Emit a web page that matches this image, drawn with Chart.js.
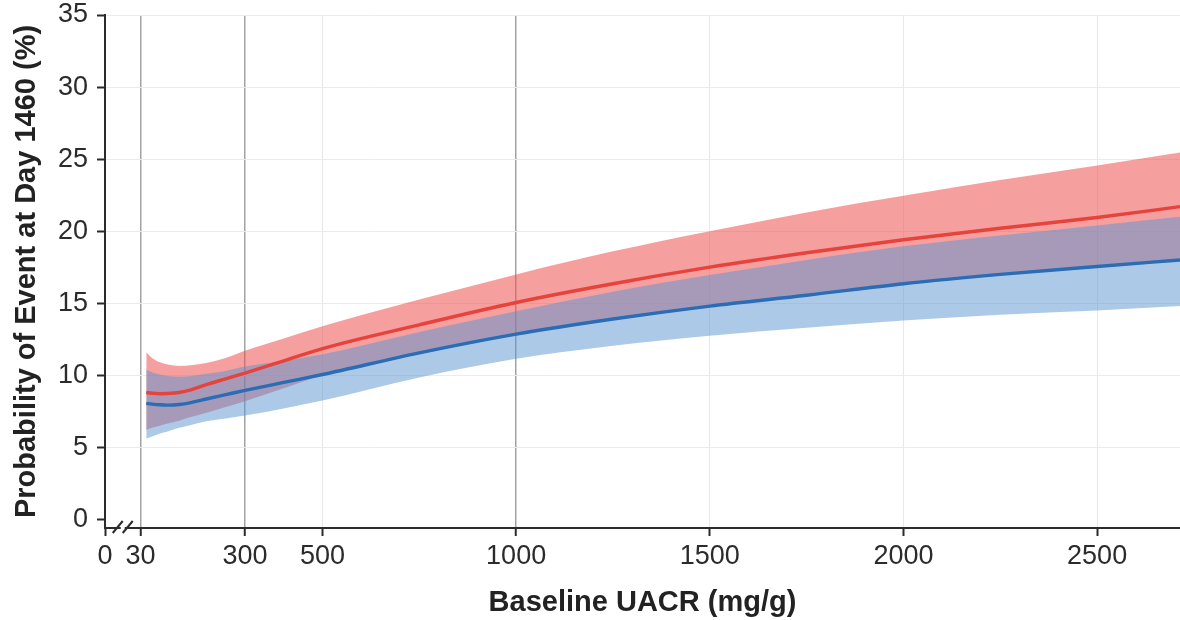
<!DOCTYPE html>
<html>
<head>
<meta charset="utf-8">
<script src="https://cdn.jsdelivr.net/npm/chart.js@4.4.1/dist/chart.umd.min.js"></script>
<style>
  html, body { margin: 0; padding: 0; background: #fff; }
  canvas { display: block; }
</style>
</head>
<body>
<canvas id="chart" width="1180" height="620"></canvas>
<script>
// Baseline UACR (mg/g) at which the model curves are evaluated
const uacr = [45, 60, 80, 100, 130, 160, 200, 250, 300, 400, 500, 750, 1000, 1250, 1500, 1750, 2000, 2250, 2500, 2714];

// Red group: estimate with 95% band (%)
const redMid  = [8.8, 8.75, 8.72, 8.73, 8.8, 8.98, 9.35, 9.75, 10.15, 11.0, 11.85, 13.5, 15.05, 16.35, 17.5, 18.5, 19.4, 20.2, 20.95, 21.7];
const redHigh = [11.6, 11.2, 10.9, 10.75, 10.65, 10.7, 10.85, 11.2, 11.7, 12.55, 13.4, 15.25, 17.0, 18.6, 20.0, 21.3, 22.45, 23.55, 24.55, 25.45];
const redLow  = [6.2, 6.35, 6.5, 6.65, 6.85, 7.1, 7.4, 7.8, 8.2, 9.1, 10.0, 11.5, 12.8, 13.85, 14.75, 15.5, 16.3, 16.95, 17.5, 17.95];

// Blue group: estimate with 95% band (%)
const blueMid  = [8.05, 8.0, 7.95, 7.93, 7.97, 8.1, 8.35, 8.65, 8.95, 9.5, 10.05, 11.55, 12.85, 13.9, 14.8, 15.55, 16.35, 17.0, 17.55, 18.0];
const blueHigh = [10.4, 10.2, 10.05, 9.95, 9.9, 9.95, 10.1, 10.3, 10.6, 11.0, 11.45, 13.0, 14.45, 15.8, 16.95, 18.0, 18.95, 19.7, 20.4, 21.0];
const blueLow  = [5.6, 5.75, 5.95, 6.1, 6.35, 6.55, 6.8, 7.0, 7.2, 7.7, 8.25, 9.85, 11.15, 12.05, 12.75, 13.3, 13.8, 14.2, 14.5, 14.8];

// Axis ticks
const xTickValues = [0, 30, 300, 500, 1000, 1500, 2000, 2500];
const yTickValues = [0, 5, 10, 15, 20, 25, 30, 35];
const referenceLines = [30, 300, 1000];

// The x axis is broken between 0 and 30; "0" is shown at the axis start.
const X_START = -61.5;
const X_END = 2714;

const FONT = "'Liberation Sans', Arial, Helvetica, sans-serif";
const INK = '#2b2b2b';

const toPoints = ys => uacr.map((x, i) => ({ x, y: ys[i] }));

const band = (data, color, fill, order) => ({
  data: toPoints(data),
  borderWidth: 0,
  pointRadius: 0,
  backgroundColor: color,
  fill,
  order,
  cubicInterpolationMode: 'monotone'
});

const line = (data, color) => ({
  data: toPoints(data),
  borderColor: color,
  borderWidth: 3.4,
  pointRadius: 0,
  fill: false,
  order: 0,
  cubicInterpolationMode: 'monotone'
});

// Two slashes marking the x-axis break
const axisBreak = {
  id: 'axisBreak',
  afterDraw(chart) {
    const { ctx, scales: { x } } = chart;
    const yAxis = chart.chartArea.bottom;
    const a = x.getPixelForValue(X_START);
    const b = x.getPixelForValue(30);
    const mid = (a + b) / 2;
    ctx.save();
    ctx.fillStyle = '#fff';
    ctx.fillRect(mid - 2, yAxis - 2, 4, 4);
    ctx.strokeStyle = INK;
    ctx.lineWidth = 2;
    [-5, 5].forEach(dx => {
      ctx.beginPath();
      ctx.moveTo(mid + dx - 5, yAxis + 5);
      ctx.lineTo(mid + dx + 5, yAxis - 7);
      ctx.stroke();
    });
    ctx.restore();
  }
};

new Chart(document.getElementById('chart'), {
  type: 'line',
  data: {
    datasets: [
      band(redHigh, 'rgba(236, 80, 80, 0.55)', '+1', 2),
      band(redLow, 'rgba(0,0,0,0)', false, 2),
      band(blueHigh, 'rgba(90, 150, 210, 0.5)', '+1', 1),
      band(blueLow, 'rgba(0,0,0,0)', false, 1),
      line(redMid, '#e5433b'),
      line(blueMid, '#2a6db5')
    ]
  },
  options: {
    responsive: false,
    animation: false,
    events: [],
    layout: { padding: { left: 0, right: 0, top: 15, bottom: 0 } },
    plugins: { legend: { display: false }, tooltip: { enabled: false } },
    scales: {
      x: {
        type: 'linear',
        min: X_START,
        max: X_END,
        afterBuildTicks: scale => {
          scale.ticks = xTickValues.map(v => ({ value: v === 0 ? X_START : v }));
        },
        afterFit: scale => { scale.height = 92; },
        ticks: {
          autoSkip: false,
          maxRotation: 0,
          padding: 4,
          color: INK,
          font: { family: FONT, size: 27 },
          callback: v => (v === X_START ? '0' : String(v))
        },
        grid: {
          drawTicks: true,
          tickLength: 8,
          tickColor: INK,
          tickWidth: 2,
          color: c => {
            const v = c.tick && c.tick.value;
            if (v === X_START) return 'rgba(0,0,0,0)';
            return referenceLines.includes(v) ? '#a3a3a3' : '#e8e8e8';
          },
          lineWidth: c => (c.tick && referenceLines.includes(c.tick.value) ? 1.5 : 1)
        },
        border: { color: INK, width: 2 },
        title: {
          display: true,
          text: 'Baseline UACR (mg/g)',
          color: '#222',
          font: { family: FONT, size: 29, weight: 'bold' },
          padding: { top: 0, bottom: 0 }
        }
      },
      y: {
        type: 'linear',
        min: -0.6,
        max: 35,
        afterBuildTicks: scale => {
          scale.ticks = yTickValues.map(v => ({ value: v }));
        },
        afterFit: scale => {
          scale.width = 105;
          scale.paddingTop = 0;
        },
        ticks: {
          autoSkip: false,
          padding: 9,
          color: INK,
          font: { family: FONT, size: 27 }
        },
        grid: {
          drawTicks: true,
          tickLength: 8,
          tickColor: INK,
          tickWidth: 2,
          color: c => (c.tick && c.tick.value === 0 ? 'rgba(0,0,0,0)' : '#ececec'),
          lineWidth: 1
        },
        border: { color: INK, width: 2 },
        title: {
          display: true,
          text: 'Probability of Event at Day 1460 (%)',
          color: '#222',
          font: { family: FONT, size: 29, weight: 'bold' },
          padding: { top: 10, bottom: 0 }
        }
      }
    }
  },
  plugins: [axisBreak]
});
</script>
</body>
</html>
